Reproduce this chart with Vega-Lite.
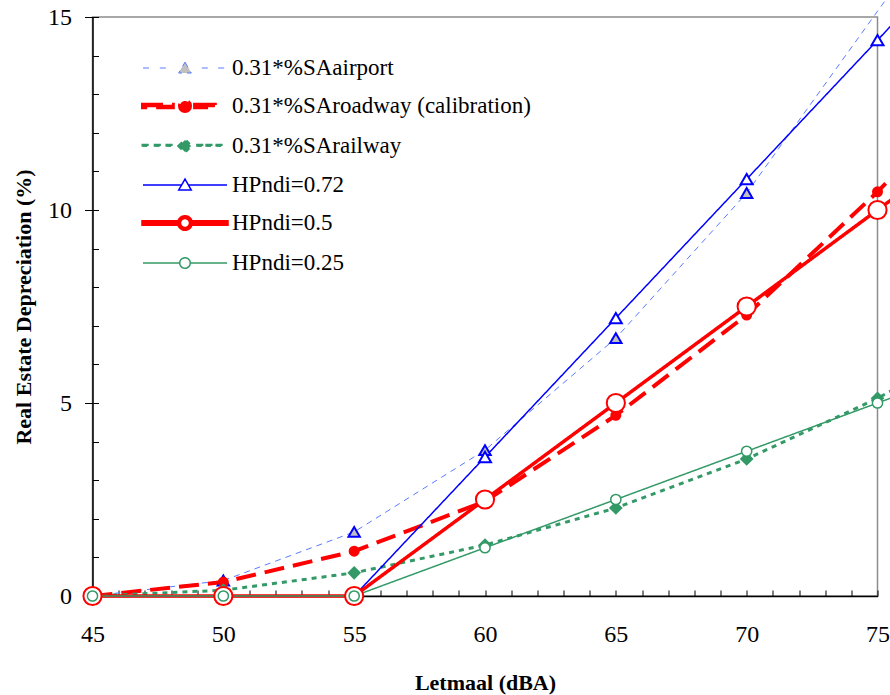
{
  "$schema": "https://vega.github.io/schema/vega-lite/v6.json",
  "width": 785,
  "height": 579,
  "autosize": {"type": "none"},
  "padding": {"left": 92.5, "top": 17, "right": 12.5, "bottom": 99},
  "background": "white",
  "config": {"font": "Liberation Serif", "view": {"stroke": "#8c8c8c", "strokeWidth": 1.5}},
  "data": {"values": [
    {"dB": 45, "dep": 0, "series": "0.31*%SAairport"},
    {"dB": 50, "dep": 0.4, "series": "0.31*%SAairport"},
    {"dB": 55, "dep": 1.66, "series": "0.31*%SAairport"},
    {"dB": 60, "dep": 3.78, "series": "0.31*%SAairport"},
    {"dB": 65, "dep": 6.68, "series": "0.31*%SAairport"},
    {"dB": 70, "dep": 10.44, "series": "0.31*%SAairport"},
    {"dB": 75, "dep": 15.15, "series": "0.31*%SAairport"},
    {"dB": 80, "dep": 19.8, "series": "0.31*%SAairport"},
    {"dB": 45, "dep": 0, "series": "0.31*%SAroadway (calibration)"},
    {"dB": 50, "dep": 0.36, "series": "0.31*%SAroadway (calibration)"},
    {"dB": 55, "dep": 1.16, "series": "0.31*%SAroadway (calibration)"},
    {"dB": 60, "dep": 2.45, "series": "0.31*%SAroadway (calibration)"},
    {"dB": 65, "dep": 4.68, "series": "0.31*%SAroadway (calibration)"},
    {"dB": 70, "dep": 7.28, "series": "0.31*%SAroadway (calibration)"},
    {"dB": 75, "dep": 10.47, "series": "0.31*%SAroadway (calibration)"},
    {"dB": 80, "dep": 14.0, "series": "0.31*%SAroadway (calibration)"},
    {"dB": 45, "dep": 0, "series": "0.31*%SArailway"},
    {"dB": 50, "dep": 0.15, "series": "0.31*%SArailway"},
    {"dB": 55, "dep": 0.6, "series": "0.31*%SArailway"},
    {"dB": 60, "dep": 1.32, "series": "0.31*%SArailway"},
    {"dB": 65, "dep": 2.28, "series": "0.31*%SArailway"},
    {"dB": 70, "dep": 3.55, "series": "0.31*%SArailway"},
    {"dB": 75, "dep": 5.12, "series": "0.31*%SArailway"},
    {"dB": 80, "dep": 7.0, "series": "0.31*%SArailway"},
    {"dB": 45, "dep": 0, "series": "HPndi=0.72"},
    {"dB": 50, "dep": 0, "series": "HPndi=0.72"},
    {"dB": 55, "dep": 0, "series": "HPndi=0.72"},
    {"dB": 60, "dep": 3.6, "series": "HPndi=0.72"},
    {"dB": 65, "dep": 7.2, "series": "HPndi=0.72"},
    {"dB": 70, "dep": 10.8, "series": "HPndi=0.72"},
    {"dB": 75, "dep": 14.4, "series": "HPndi=0.72"},
    {"dB": 80, "dep": 18.0, "series": "HPndi=0.72"},
    {"dB": 45, "dep": 0, "series": "HPndi=0.5"},
    {"dB": 50, "dep": 0, "series": "HPndi=0.5"},
    {"dB": 55, "dep": 0, "series": "HPndi=0.5"},
    {"dB": 60, "dep": 2.5, "series": "HPndi=0.5"},
    {"dB": 65, "dep": 5.0, "series": "HPndi=0.5"},
    {"dB": 70, "dep": 7.5, "series": "HPndi=0.5"},
    {"dB": 75, "dep": 10.0, "series": "HPndi=0.5"},
    {"dB": 80, "dep": 12.5, "series": "HPndi=0.5"},
    {"dB": 45, "dep": 0, "series": "HPndi=0.25"},
    {"dB": 50, "dep": 0, "series": "HPndi=0.25"},
    {"dB": 55, "dep": 0, "series": "HPndi=0.25"},
    {"dB": 60, "dep": 1.25, "series": "HPndi=0.25"},
    {"dB": 65, "dep": 2.5, "series": "HPndi=0.25"},
    {"dB": 70, "dep": 3.75, "series": "HPndi=0.25"},
    {"dB": 75, "dep": 5.0, "series": "HPndi=0.25"},
    {"dB": 80, "dep": 6.25, "series": "HPndi=0.25"}
  ]},
  "layer": [
    {
      "mark": {"type": "line", "clip": false},
      "encoding": {
        "x": {
          "field": "dB", "type": "quantitative",
          "scale": {"domain": [45, 75], "nice": false, "zero": false},
          "axis": {
            "orient": "bottom",
            "values": [45,46,47,48,49,50,51,52,53,54,55,56,57,58,59,60,61,62,63,64,65,66,67,68,69,70,71,72,73,74,75],
            "labels": false, "title": null, "grid": false,
            "tickSize": -6, "tickColor": "#000", "tickWidth": 1,
            "domainColor": "#000", "domainWidth": 1.5
          }
        },
        "y": {
          "field": "dep", "type": "quantitative",
          "scale": {"domain": [0, 15], "nice": false},
          "axis": {
            "orient": "left",
            "values": [0,1,2,3,4,5,6,7,8,9,10,11,12,13,14,15],
            "labels": false, "title": null, "grid": false,
            "tickSize": -6, "tickColor": "#000", "tickWidth": 1,
            "domainColor": "#000", "domainWidth": 1.5
          }
        },
        "color": {
          "field": "series", "type": "nominal",
          "scale": {
            "domain": ["0.31*%SAairport", "0.31*%SAroadway (calibration)", "0.31*%SArailway", "HPndi=0.72", "HPndi=0.5", "HPndi=0.25"],
            "range": ["#5a7bff", "#ff0000", "#339966", "#0000ff", "#ff0000", "#339966"]
          },
          "legend": {
            "orient": "none", "legendX": 49.5, "legendY": 36, "title": null, "padding": 0,
            "symbolSize": 7056, "symbolStrokeWidth": 1.5, "rowPadding": 11,
            "labelFont": "Liberation Serif", "labelFontSize": 23, "labelColor": "#000",
            "labelLimit": 500,
            "encode": {
              "labels": {
                "update": {
                  "x": {"value": 90},
                  "y": {"value": 15}
                }
              },
              "symbols": {
                "update": {
                  "x": {"value": 43},
                  "y": {"value": 15},
                  "size": {"value": 7056},
                  "shape": {"signal": "['M-1,0H-0.83M-0.6,0H-0.43M0.4,0H0.55M0.79,0H0.95M0,-0.14L0.15,0.12L-0.15,0.12Z', 'M-1,-0.03H-0.29V0.03H-1ZM0.24,-0.03H0.71V0.03H0.24ZM-0.12,0A0.12,0.12 0 1,0 0.12,0A0.12,0.12 0 1,0 -0.12,0Z', 'M-1,-0.018H-0.9V0.018H-1ZM-0.71,-0.018H-0.61V0.018H-0.71ZM-0.43,-0.018H-0.33V0.018H-0.43ZM0.3,-0.018H0.4V0.018H0.3ZM0.52,-0.018H0.62V0.018H0.52ZM0.76,-0.018H0.86V0.018H0.76ZM-0.145,0L0,-0.145L0.145,0L0,0.145Z', 'M-1,0H-0.08M0.08,0H1M0,-0.14L0.15,0.12L-0.15,0.12Z', 'M-1,-0.03H-0.165V0.03H-1ZM0.165,-0.03H1V0.03H0.165ZM-0.15,0A0.15,0.15 0 1,0 0.15,0A0.15,0.15 0 1,0 -0.15,0ZM-0.13,0A0.13,0.13 0 1,1 0.13,0A0.13,0.13 0 1,1 -0.13,0Z', 'M-1,0H-0.125M0.125,0H1M-0.125,0A0.125,0.125 0 1,0 0.125,0A0.125,0.125 0 1,0 -0.125,0Z'][datum.index]"},
                  "fill": {"signal": "['#c0c0c0', '#ff0000', '#339966', '#ffffff', '#ff0000', '#ffffff'][datum.index]"},
                  "stroke": {"signal": "['#3355ff', '#ff0000', '#339966', '#0000ff', '#ff0000', '#339966'][datum.index]"},
                  "strokeDash": {"value": [1, 0]},
                  "opacity": {"value": 1}
                }
              }
            }
          }
        },
        "strokeDash": {
          "field": "series", "type": "nominal",
          "scale": {
            "domain": ["0.31*%SAairport", "0.31*%SAroadway (calibration)", "0.31*%SArailway", "HPndi=0.72", "HPndi=0.5", "HPndi=0.25"],
            "range": [[6, 5], [20, 9], [5, 5], [1, 0], [1, 0], [1, 0]]
          },
          "legend": null
        },
        "strokeWidth": {
          "field": "series", "type": "nominal",
          "scale": {
            "type": "ordinal",
            "domain": ["0.31*%SAairport", "0.31*%SAroadway (calibration)", "0.31*%SArailway", "HPndi=0.72", "HPndi=0.5", "HPndi=0.25"],
            "range": [1, 4, 3, 1.5, 3.5, 1.5]
          },
          "legend": null
        }
      }
    },
    {
      "transform": [{"filter": "datum.series === '0.31*%SAairport' && datum.dep <= 15.05 && datum.dB <= 75"}],
      "mark": {"type": "point", "shape": "triangle-up", "size": 130, "filled": true, "fill": "#c0c0c0", "stroke": "#0000ff", "strokeWidth": 2, "opacity": 1, "clip": false},
      "encoding": {
        "x": {
          "field": "dB", "type": "quantitative",
          "axis": {
            "orient": "bottom",
            "values": [45, 50, 55, 60, 65, 70, 75],
            "ticks": true, "tickSize": 0, "domain": false, "grid": false,
            "labelFont": "Liberation Serif", "labelFontSize": 24, "labelColor": "#000",
            "labelPadding": 26, "labelFlush": false, "labelOverlap": false,
            "title": "Letmaal (dBA)", "titleFont": "Liberation Serif", "titleFontSize": 22,
            "titleFontWeight": "bold", "titleColor": "#000", "titlePadding": 26
          }
        },
        "y": {
          "field": "dep", "type": "quantitative",
          "axis": {
            "orient": "left",
            "values": [0, 5, 10, 15],
            "ticks": true, "tickSize": 8, "tickColor": "#000", "tickWidth": 1,
            "domain": false, "grid": false,
            "labelFont": "Liberation Serif", "labelFontSize": 24, "labelColor": "#000",
            "labelPadding": 13, "labelFlush": false, "labelOverlap": false,
            "title": "Real Estate Depreciation (%)", "titleFont": "Liberation Serif", "titleFontSize": 22,
            "titleFontWeight": "bold", "titleColor": "#000", "titlePadding": 12
          }
        }
      }
    },
    {
      "transform": [{"filter": "datum.series === '0.31*%SAroadway (calibration)' && datum.dB <= 75"}],
      "mark": {"type": "point", "shape": "circle", "size": 85, "filled": true, "fill": "#ff0000", "stroke": "#ff0000", "strokeWidth": 1.8, "opacity": 1, "clip": false},
      "encoding": {
        "x": {"field": "dB", "type": "quantitative", "axis": null},
        "y": {"field": "dep", "type": "quantitative", "axis": null}
      }
    },
    {
      "transform": [{"filter": "datum.series === '0.31*%SArailway' && datum.dB <= 75"}],
      "mark": {"type": "point", "shape": "diamond", "size": 125, "filled": true, "fill": "#339966", "stroke": "#339966", "strokeWidth": 1.8, "opacity": 1, "clip": false},
      "encoding": {
        "x": {"field": "dB", "type": "quantitative", "axis": null},
        "y": {"field": "dep", "type": "quantitative", "axis": null}
      }
    },
    {
      "transform": [{"filter": "datum.series === 'HPndi=0.72' && datum.dB <= 75"}],
      "mark": {"type": "point", "shape": "triangle-up", "size": 144, "filled": true, "fill": "#ffffff", "stroke": "#0000ff", "strokeWidth": 2, "opacity": 1, "clip": false},
      "encoding": {
        "x": {"field": "dB", "type": "quantitative", "axis": null},
        "y": {"field": "dep", "type": "quantitative", "axis": null}
      }
    },
    {
      "transform": [{"filter": "datum.series === 'HPndi=0.5' && datum.dB <= 75"}],
      "mark": {"type": "point", "shape": "circle", "size": 330, "filled": true, "fill": "#ffffff", "stroke": "#ff0000", "strokeWidth": 2, "opacity": 1, "clip": false},
      "encoding": {
        "x": {"field": "dB", "type": "quantitative", "axis": null},
        "y": {"field": "dep", "type": "quantitative", "axis": null}
      }
    },
    {
      "transform": [{"filter": "datum.series === 'HPndi=0.25' && datum.dB <= 75"}],
      "mark": {"type": "point", "shape": "circle", "size": 104, "filled": true, "fill": "#ffffff", "stroke": "#339966", "strokeWidth": 1.5, "opacity": 1, "clip": false},
      "encoding": {
        "x": {"field": "dB", "type": "quantitative", "axis": null},
        "y": {"field": "dep", "type": "quantitative", "axis": null}
      }
    }
  ],
  "resolve": {"axis": {"x": "independent", "y": "independent"}}
}
